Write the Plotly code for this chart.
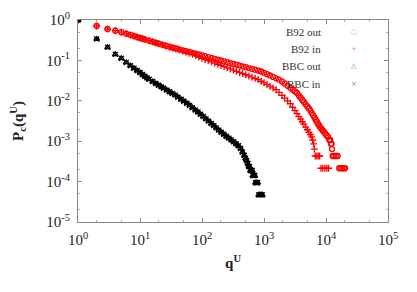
import plotly.graph_objects as go

# cumulative distributions
b92_out_q = [1, 2, 3, 4, 5, 6, 7, 8, 9, 10, 11, 12, 14, 16, 18, 20, 23, 26, 30, 34, 38, 43, 49, 55, 62, 70, 79,
             89, 100, 112, 126, 142, 160, 180, 202, 227, 255, 286, 320, 360, 404, 453, 508, 570, 640, 718, 805,
             900, 1000, 1120, 1250, 1400, 1570, 1750, 1950, 2150, 2400, 2650, 2900, 3150, 3400, 3650, 3900,
             4150, 4400, 4700, 5000, 5300, 5600, 5900, 6200, 6500, 6800, 7100, 7400, 7700, 8000, 8400, 8800,
             9200, 9700, 10200, 10800, 11300, 11700, 12000, 12300, 12500, 12800, 13600, 14500, 15400,
             16300, 17300, 18300, 19300, 20300]
b92_out_p = [1.0, 0.71, 0.598, 0.543, 0.501, 0.457, 0.427, 0.401, 0.378, 0.360, 0.344, 0.330, 0.308, 0.288,
             0.273, 0.259, 0.243, 0.231, 0.218, 0.207, 0.198, 0.188, 0.178, 0.170, 0.162, 0.154, 0.147,
             0.140, 0.133, 0.127, 0.121, 0.115, 0.109, 0.104, 0.0993, 0.0946, 0.0902, 0.0859, 0.0820, 0.0782,
             0.0745, 0.0711, 0.0678, 0.0647, 0.0617, 0.0589, 0.0561, 0.0531, 0.0493, 0.0456, 0.0423, 0.0391,
             0.0361, 0.0335, 0.0301, 0.0269, 0.0236, 0.0210, 0.0188, 0.0171, 0.0156, 0.0136, 0.0119, 0.0105,
             0.00935, 0.00818, 0.00723, 0.00644, 0.00570, 0.00497, 0.00438, 0.00386, 0.00343, 0.00308,
             0.00276, 0.00249, 0.00224, 0.00205, 0.00187, 0.00172, 0.00155, 0.00141, 0.00127, 0.00107,
             0.00107, 0.00086, 0.00086, 0.00064, 0.00043, 0.00043, 0.00043, 0.00043,
             0.000214, 0.000214, 0.000214, 0.000214, 0.000214]

b92_in_q = [1, 2, 3, 4, 5, 6, 7, 8, 9, 10, 11, 12, 14, 16, 18, 20, 23, 26, 30, 34, 38, 43, 49, 55, 62, 70, 79,
            89, 100, 112, 126, 142, 160, 180, 202, 227, 255, 286, 320, 360, 404, 453, 508, 570, 640, 718, 805,
            900, 1000, 1120, 1250, 1400, 1570, 1750, 1950, 2150, 2400, 2650, 2900, 3150, 3400, 3650, 3900,
            4150, 4400, 4700, 5000, 5300, 5600, 5900, 6100, 6300, 6500, 6700, 7100, 7500, 7900,
            8300, 8900, 9600, 10300, 11000]
b92_in_p = [1.0, 0.71, 0.598, 0.543, 0.501, 0.457, 0.427, 0.401, 0.378, 0.360, 0.344, 0.330, 0.308, 0.288,
            0.273, 0.259, 0.243, 0.226, 0.213, 0.201, 0.191, 0.180, 0.169, 0.159, 0.150, 0.141, 0.132,
            0.121, 0.113, 0.106, 0.0989, 0.0923, 0.0861, 0.0804, 0.0752, 0.0703, 0.0656, 0.0615, 0.0575,
            0.0538, 0.0504, 0.0471, 0.0441, 0.0412, 0.0385, 0.0361, 0.0337, 0.0305, 0.0278, 0.0252, 0.0230,
            0.0208, 0.0189, 0.0161, 0.0136, 0.0117, 0.00991, 0.00853, 0.00693, 0.00574, 0.00482, 0.00408,
            0.00350, 0.00303, 0.00264, 0.00223, 0.00192, 0.00166, 0.00146, 0.00128, 0.00107, 0.00086,
            0.00064, 0.00043, 0.00043, 0.00043, 0.00043, 0.000214, 0.000214, 0.000214, 0.000214, 0.000214]

bbc_q = [1, 2, 3, 4, 5, 6, 7, 8, 9, 10, 11, 12, 13, 14, 16, 18, 20, 22, 24, 27, 30, 33, 37, 41, 46, 51, 57,
         63, 70, 78, 86, 95, 105, 116, 128, 141, 155, 170, 187, 205, 225, 247, 270, 296, 324, 355, 388,
         420, 450, 480, 505, 525, 550, 570, 585, 605, 625, 645, 660, 685, 710, 730, 760, 790,
         820, 860, 900, 940]
bbc_out_p = [1.0, 0.339, 0.211, 0.141, 0.112, 0.089, 0.074, 0.0638, 0.0562, 0.0501, 0.0447, 0.0405, 0.0370,
             0.0340, 0.0299, 0.0268, 0.0243, 0.0222, 0.0205, 0.0184, 0.0167, 0.0152, 0.0138, 0.0123, 0.0109,
             0.00977, 0.00871, 0.00771, 0.00676, 0.00593, 0.00526, 0.00465, 0.00407, 0.00357, 0.00314,
             0.00275, 0.00243, 0.00214, 0.00188, 0.00167, 0.00148, 0.00132, 0.00119, 0.00108, 0.000968,
             0.000863, 0.000771, 0.000661, 0.000537, 0.000447, 0.000376, 0.00033, 0.00028, 0.000235,
             0.000235, 0.000188, 0.000188, 0.000188, 0.000141, 0.000141, 0.000141, 0.000094, 0.000094,
             0.000094, 0.000047, 0.000047, 0.000047, 0.000047]
bbc_in_p = list(bbc_out_p)

series = [
    ("B92 out", b92_out_q, b92_out_p, "circle-open", "#ff0000", "\u25cb"),
    ("B92 in", b92_in_q, b92_in_p, "cross-thin-open", "#ff0000", "+"),
    ("BBC out", bbc_q, bbc_out_p, "triangle-up-open", "#000000", "\u25b3"),
    ("BBC in", bbc_q, bbc_in_p, "x-thin-open", "#000000", "\u00d7"),
]
decades = [0, 1, 2, 3, 4, 5]

fig = go.Figure()
for name, q, p, sym, col, glyph in series:
    fig.add_trace(go.Scatter(
        x=q, y=p, mode="markers", name=name, showlegend=False,
        marker=dict(symbol=sym, size=5, color=col, line=dict(width=1.3, color=col)),
    ))

serif = "Liberation Serif"
axis = dict(type="log", showgrid=False, zeroline=False, showline=True, linecolor="#888",
            linewidth=1, mirror="ticks", ticks="inside", ticklen=4, tickcolor="#888",
            minor=dict(ticks="inside", ticklen=2, tickcolor="#aaa"), automargin=False,
            tickfont=dict(family=serif, size=15, color="#222"))

fig.update_xaxes(axis, range=[0, 5], tickvals=[10 ** d for d in decades],
                 ticktext=[f"10<sup>{d}</sup>" for d in decades], ticklabelstandoff=4,
                 title=dict(text="<b>q<sup>U</sup></b>", font=dict(family=serif, size=15, color="#222"),
                            standoff=10))
fig.update_yaxes(axis, range=[-5, 0], tickvals=[10 ** -d for d in decades],
                 ticktext=[f"10<sup>{-d}</sup>" if d else "10<sup>0</sup>" for d in decades],
                 ticklabelstandoff=4,
                 title=dict(text="<b>P<sub>c</sub>(q<sup>U</sup>)</b>",
                            font=dict(family=serif, size=15, color="#222"), standoff=20))

# legend drawn as text: label right-aligned, symbol to its right
for i, (name, q, p, sym, col, glyph) in enumerate(series):
    y = 0.94 - i * 0.085
    fig.add_annotation(xref="paper", yref="paper", x=0.79, y=y, xanchor="right", yanchor="middle",
                       text=name, showarrow=False, font=dict(family=serif, size=11, color="#333"))
    fig.add_annotation(xref="paper", yref="paper", x=0.89, y=y, xanchor="center", yanchor="middle",
                       text=glyph, showarrow=False,
                       font=dict(family="DejaVu Sans", size=7, color="#f88" if col == "#ff0000" else "#888"))

# page body adds 8px on each side, so the figure is sized to land on the reference frame
fig.update_layout(
    width=409, height=284,
    margin=dict(l=70, r=29, t=12, b=70),
    paper_bgcolor="white", plot_bgcolor="white",
    font=dict(family=serif),
)

fig.write_html("out.html")
